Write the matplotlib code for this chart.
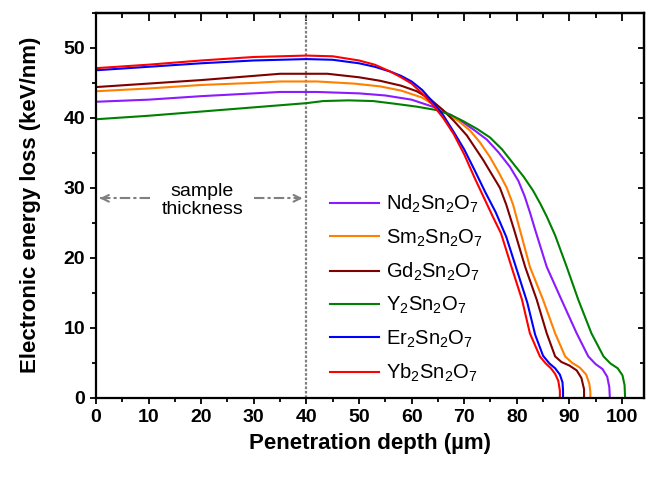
import matplotlib
matplotlib.use("Agg")
import matplotlib.pyplot as plt
from matplotlib.ticker import MultipleLocator

plt.rcParams['font.family'] = ['Liberation Sans', 'DejaVu Sans']
plt.rcParams['mathtext.fontset'] = 'custom'
plt.rcParams['mathtext.rm'] = 'Liberation Sans'
plt.rcParams['mathtext.it'] = 'Liberation Sans:italic'
plt.rcParams['mathtext.bf'] = 'Liberation Sans:bold'

# Electronic energy loss (keV/nm) vs penetration depth (um)
nd_x = [0, 10, 20, 30, 35, 42, 50, 55, 60, 64.8, 67.5, 69.9, 72, 74.3, 76.5, 78.7, 80.3, 81.5, 82.5, 83.5, 85.7, 88.5, 91.4, 93.6, 95.0, 96.3, 97.2, 97.6, 97.7]
nd_y = [42.3, 42.6, 43.1, 43.5, 43.7, 43.7, 43.5, 43.2, 42.6, 41.4, 40.4, 39.3, 38.2, 36.9, 35.1, 33.0, 31.0, 28.8, 26.5, 24.0, 18.7, 14.0, 9.2, 5.9, 4.8, 4.1, 3.0, 1.5, 0]

sm_x = [0, 10, 20, 30, 35, 42, 49, 54, 58, 62, 65, 67, 69, 71.1, 73, 74.9, 76.5, 78.1, 79.3, 80.6, 82.5, 85.0, 87.3, 89.2, 90.5, 92.0, 93.2, 93.8, 94.0, 94.0]
sm_y = [43.8, 44.2, 44.7, 45.0, 45.2, 45.2, 44.9, 44.5, 43.9, 42.9, 41.5, 40.5, 39.5, 38.2, 36.5, 34.4, 32.3, 30.0, 27.6, 24.0, 18.7, 14.0, 9.2, 5.9, 5.0, 4.3, 3.3, 2.0, 0.8, 0]

gd_x = [0, 10, 20, 30, 35, 44, 50, 54, 58, 61, 63.5, 66, 68, 70.5, 73.6, 76.8, 78.0, 79.5, 81.6, 83.8, 85.7, 87.3, 88.5, 90.0, 91.4, 92.3, 92.8, 92.8]
gd_y = [44.4, 44.9, 45.4, 46.0, 46.3, 46.3, 45.8, 45.3, 44.6, 43.8, 42.7, 41.1, 39.6, 37.5, 34.0, 30.0, 27.6, 24.0, 18.7, 14.0, 9.2, 5.9, 5.1, 4.6, 3.9, 2.8, 1.2, 0]

y_x = [0, 10, 20, 30, 40, 43.2, 48, 52.7, 57, 61, 64.8, 67.5, 69.9, 72.5, 74.9, 77.2, 79.3, 81.3, 83.1, 84.5, 85.7, 87.3, 89.5, 91.7, 94.2, 96.5, 97.8, 99.2, 100.1, 100.5, 100.6]
y_y = [39.8, 40.3, 40.9, 41.5, 42.1, 42.4, 42.5, 42.4, 42.0, 41.6, 41.1, 40.4, 39.5, 38.4, 37.2, 35.5, 33.5, 31.6, 29.6, 27.7, 25.9, 23.2, 18.7, 14.0, 9.2, 5.9, 4.9, 4.2, 3.2, 1.8, 0]

er_x = [0, 10, 20, 30, 40, 45, 50, 53, 56, 58, 60, 62, 64, 66, 68, 70, 72, 74, 76, 78, 80, 82, 83.5, 85.0, 86.2, 87.3, 88.2, 88.7, 88.8, 88.8]
er_y = [46.8, 47.3, 47.8, 48.2, 48.4, 48.3, 47.8, 47.3, 46.6, 46.0, 45.2, 44.0, 42.3, 40.4, 38.0, 35.5, 32.5, 29.4, 26.5, 23.0, 18.3, 13.6, 9.0, 6.0, 4.9, 4.2, 3.3, 2.2, 1.0, 0]

yb_x = [0, 10, 20, 30, 40, 45, 50, 53, 56, 58, 60, 62, 64, 66, 68, 70, 72, 74, 75.5, 77, 79, 81, 82.5, 84.4, 85.5, 86.5, 87.3, 87.9, 88.2, 88.2]
yb_y = [47.1, 47.6, 48.2, 48.7, 48.9, 48.8, 48.2, 47.6, 46.6, 45.8, 44.9, 43.5, 41.9, 40.0, 37.7, 34.8, 31.4, 28.2, 25.8, 23.5, 18.7, 14.0, 9.2, 5.9, 4.9, 4.2, 3.4, 2.4, 1.0, 0]

labels = ['Nd$_2$Sn$_2$O$_7$', 'Sm$_2$Sn$_2$O$_7$', 'Gd$_2$Sn$_2$O$_7$',
          'Y$_2$Sn$_2$O$_7$', 'Er$_2$Sn$_2$O$_7$', 'Yb$_2$Sn$_2$O$_7$']
colors = ['#8B1AFF', '#FF8000', '#800000', '#008000', '#0000FF', '#FF0000']
xs = [nd_x, sm_x, gd_x, y_x, er_x, yb_x]
ys = [nd_y, sm_y, gd_y, y_y, er_y, yb_y]

thickness = 40

fig = plt.figure(figsize=(6.47, 4.78), dpi=100)
ax = fig.add_axes([0.1484, 0.168, 0.847, 0.805])

for x, y, c, lab in zip(xs, ys, colors, labels):
    ax.plot(x, y, color=c, lw=1.5, label=lab)

# sample thickness marker
ax.axvline(thickness, color='#808080', lw=1.6, ls=(0, (1.2, 0.8)), zorder=1)
ax.plot([0.8, 10.5], [28.5, 28.5], color='#808080', lw=1.5, ls=(0, (5, 1.5, 1.5, 1.5)))
ax.plot([30.0, 39.0], [28.5, 28.5], color='#808080', lw=1.5, ls=(0, (5, 1.5, 1.5, 1.5)))
ax.annotate('', xy=(0.2, 28.5), xytext=(2.5, 28.5),
            arrowprops=dict(arrowstyle='->', color='#808080', lw=1.5, mutation_scale=12))
ax.annotate('', xy=(39.8, 28.5), xytext=(37.5, 28.5),
            arrowprops=dict(arrowstyle='->', color='#808080', lw=1.5, mutation_scale=12))
ax.text(20.2, 28.2, 'sample\nthickness', ha='center', va='center', fontsize=14,
        linespacing=1.1)

ax.set_xlim(0, 104.2)
ax.set_ylim(0, 55)
ax.xaxis.set_major_locator(MultipleLocator(10))
ax.xaxis.set_minor_locator(MultipleLocator(5))
ax.yaxis.set_major_locator(MultipleLocator(10))
ax.yaxis.set_minor_locator(MultipleLocator(5))

ax.tick_params(which='both', direction='out', width=1.3, labelsize=14)
ax.tick_params(which='major', length=4.5)
ax.tick_params(which='minor', length=2.8)
for lab in ax.get_xticklabels() + ax.get_yticklabels():
    lab.set_fontweight('bold')

# inward ticks on top and right, Origin style
top = ax.secondary_xaxis('top')
top.xaxis.set_major_locator(MultipleLocator(10))
top.xaxis.set_minor_locator(MultipleLocator(5))
top.tick_params(which='both', direction='in', width=1.3, labeltop=False)
top.tick_params(which='major', length=6)
top.tick_params(which='minor', length=3.5)
right = ax.secondary_yaxis('right')
right.yaxis.set_major_locator(MultipleLocator(10))
right.yaxis.set_minor_locator(MultipleLocator(5))
right.tick_params(which='both', direction='in', width=1.3, labelright=False)
right.tick_params(which='major', length=4.5)
right.tick_params(which='minor', length=3)

for s in list(ax.spines.values()) + [top.spines['top'], right.spines['right']]:
    s.set_linewidth(1.6)

ax.set_xlabel('Penetration depth (\u00b5m)', fontsize=16, fontweight='bold', labelpad=5)
ax.set_ylabel('Electronic energy loss (keV/nm)', fontsize=16, fontweight='bold', labelpad=16)

ax.legend(loc='upper left', bbox_to_anchor=(0.413, 0.553), frameon=False, fontsize=14.5,
          handlelength=2.4, handletextpad=0.35, labelspacing=0.6, borderaxespad=0)

fig.savefig('out.png', dpi=100)
